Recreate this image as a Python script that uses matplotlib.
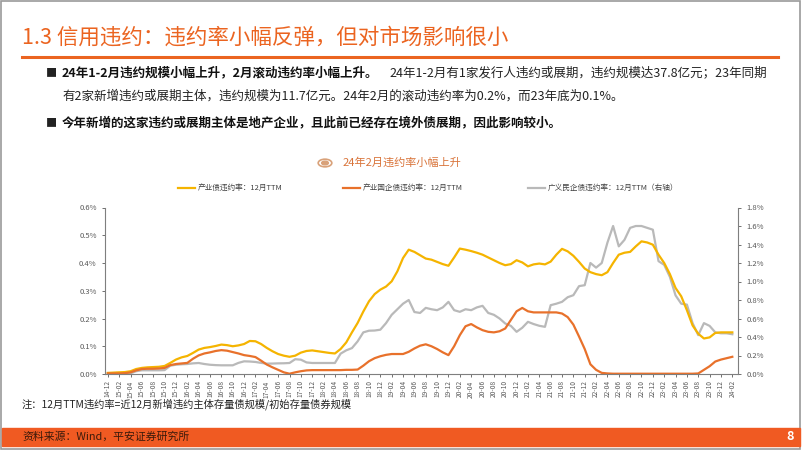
import pandas as pd
import matplotlib
matplotlib.use("Agg")
import matplotlib.pyplot as plt
from matplotlib.patches import Rectangle, Circle
from matplotlib.lines import Line2D

plt.rcParams['font.family'] = ['Noto Sans CJK SC', 'DejaVu Sans']

# 月度数据 2014-12 ~ 2024-02
months = pd.date_range("2014-12-01", "2024-02-01", freq="MS")
tick_labels = [d.strftime("%y-%m") for d in months[::2]]

# 产业债违约率：12月TTM (左轴, %)
ind_rate = [0.004, 0.005, 0.006, 0.007, 0.010, 0.018, 0.022, 0.024, 0.025, 0.026,
            0.029, 0.040, 0.052, 0.060, 0.065, 0.076, 0.088, 0.094, 0.097, 0.101,
            0.106, 0.104, 0.100, 0.103, 0.108, 0.119, 0.118, 0.108, 0.094, 0.082,
            0.072, 0.066, 0.062, 0.066, 0.077, 0.083, 0.085, 0.082, 0.079, 0.076,
            0.074, 0.090, 0.114, 0.150, 0.184, 0.225, 0.262, 0.288, 0.304, 0.315,
            0.334, 0.370, 0.418, 0.448, 0.440, 0.428, 0.416, 0.412, 0.404, 0.396,
            0.390, 0.420, 0.452, 0.448, 0.443, 0.437, 0.430, 0.420, 0.410, 0.400,
            0.392, 0.396, 0.410, 0.402, 0.388, 0.395, 0.398, 0.395, 0.405, 0.430,
            0.451, 0.442, 0.426, 0.404, 0.380, 0.367, 0.360, 0.356, 0.367, 0.400,
            0.430, 0.437, 0.440, 0.460, 0.478, 0.474, 0.466, 0.430, 0.400, 0.360,
            0.310, 0.280, 0.230, 0.175, 0.145, 0.128, 0.132, 0.148, 0.150, 0.150,
            0.150]

# 产业国企债违约率：12月TTM (左轴, %)
soe_rate = [0.002, 0.002, 0.002, 0.003, 0.006, 0.013, 0.018, 0.019, 0.019, 0.020,
            0.022, 0.032, 0.036, 0.038, 0.040, 0.055, 0.067, 0.074, 0.078, 0.083,
            0.086, 0.084, 0.079, 0.074, 0.068, 0.065, 0.061, 0.048, 0.034, 0.024,
            0.015, 0.006, 0.001, 0.006, 0.010, 0.013, 0.014, 0.014, 0.014, 0.014,
            0.014, 0.014, 0.015, 0.015, 0.016, 0.030, 0.046, 0.057, 0.064, 0.069,
            0.072, 0.072, 0.072, 0.080, 0.092, 0.102, 0.107, 0.100, 0.090, 0.078,
            0.068, 0.100, 0.140, 0.172, 0.180, 0.168, 0.158, 0.152, 0.150, 0.154,
            0.164, 0.195, 0.226, 0.238, 0.226, 0.222, 0.222, 0.222, 0.222, 0.222,
            0.218, 0.205, 0.178, 0.135, 0.090, 0.035, 0.015, 0.004, 0.002, 0.001,
            0.001, 0.001, 0.001, 0.001, 0.001, 0.001, 0.001, 0.001, 0.001, 0.001,
            0.001, 0.001, 0.001, 0.001, 0.002, 0.015, 0.028, 0.045, 0.052, 0.057,
            0.062]

# 广义民企债违约率：12月TTM (右轴, %)
pri_rate = [0.007, 0.010, 0.011, 0.009, 0.007, 0.030, 0.040, 0.040, 0.040, 0.040,
            0.042, 0.090, 0.100, 0.105, 0.108, 0.115, 0.119, 0.108, 0.100, 0.096,
            0.094, 0.094, 0.094, 0.120, 0.137, 0.135, 0.130, 0.120, 0.112, 0.113,
            0.115, 0.116, 0.119, 0.160, 0.155, 0.125, 0.119, 0.119, 0.119, 0.119,
            0.119, 0.220, 0.256, 0.280, 0.353, 0.450, 0.468, 0.470, 0.479, 0.550,
            0.640, 0.700, 0.760, 0.800, 0.670, 0.660, 0.715, 0.700, 0.690, 0.720,
            0.780, 0.690, 0.672, 0.700, 0.690, 0.720, 0.737, 0.660, 0.640, 0.600,
            0.546, 0.520, 0.456, 0.500, 0.564, 0.540, 0.521, 0.510, 0.744, 0.760,
            0.780, 0.830, 0.852, 0.950, 0.960, 1.200, 1.150, 1.200, 1.420, 1.600,
            1.380, 1.450, 1.580, 1.600, 1.600, 1.580, 1.560, 1.220, 1.180, 1.050,
            0.850, 0.760, 0.750, 0.550, 0.420, 0.550, 0.520, 0.450, 0.440, 0.440,
            0.430]

yellow = "#F5B400"
orange = "#E8712B"
gray = "#B9B9B9"
title_orange = "#EB6420"

fig = plt.figure(figsize=(8.02, 4.51), dpi=100)

# 外框
fig.patches.append(Rectangle((0.001, 0.004), 0.997, 0.993, transform=fig.transFigure,
                             fill=False, edgecolor="#9A9A9A", linewidth=1.2))

# 标题
fig.text(22 / 802, 1 - 38 / 451, "1.3 信用违约：违约率小幅反弹，但对市场影响很小",
         color=title_orange, fontsize=15.5, va="center", ha="left", weight="medium")
fig.add_artist(Line2D([22 / 802, 778 / 802], [1 - 57 / 451] * 2, color=title_orange,
                      linewidth=2.2, transform=fig.transFigure))

# 要点
bx, tx = 46 / 802, 62 / 802
fs = 9
fig.text(bx, 1 - 73 / 451, "■", fontsize=8, va="center", color="#222222")
fig.text(tx, 1 - 73 / 451, "24年1-2月违约规模小幅上升，2月滚动违约率小幅上升。",
         fontsize=fs, va="center", weight="bold", color="#111111")
fig.text(389 / 802, 1 - 73 / 451, "24年1-2月有1家发行人违约或展期，违约规模达37.8亿元；23年同期",
         fontsize=fs, va="center", color="#222222")
fig.text(tx, 1 - 96 / 451, "有2家新增违约或展期主体，违约规模为11.7亿元。24年2月的滚动违约率为0.2%，而23年底为0.1%。",
         fontsize=fs, va="center", color="#222222")
fig.text(bx, 1 - 123 / 451, "■", fontsize=8, va="center", color="#222222")
fig.text(tx, 1 - 123 / 451, "今年新增的这家违约或展期主体是地产企业，且此前已经存在境外债展期，因此影响较小。",
         fontsize=fs, va="center", weight="bold", color="#111111")

# 图标题
fig.add_artist(Circle((325 / 802, 1 - 163 / 451), 0.0085, transform=fig.transFigure,
                      fill=False, edgecolor="#D9A27A", linewidth=1.2))
fig.add_artist(Circle((325 / 802, 1 - 163 / 451), 0.0042, transform=fig.transFigure,
                      color="#D9A27A"))
fig.text(343 / 802, 1 - 163 / 451, "24年2月违约率小幅上升", fontsize=8,
         color="#D9743A", va="center")

# 主图
ax = fig.add_axes([105 / 802, 77 / 451, 633 / 802, 166.5 / 451])
ax2 = ax.twinx()
x = list(range(len(months)))
l1, = ax.plot(x, ind_rate, color=yellow, linewidth=1.6, label="产业债违约率：12月TTM")
l2, = ax.plot(x, soe_rate, color=orange, linewidth=1.6, label="产业国企债违约率：12月TTM")
l3, = ax2.plot(x, pri_rate, color=gray, linewidth=1.6, label="广义民企债违约率：12月TTM（右轴）")
ax.set_zorder(ax2.get_zorder() + 1)
ax.patch.set_visible(False)

ax.set_xlim(-0.5, 111)
ax.set_ylim(0, 0.6)
ax2.set_ylim(0, 1.8)
ax.set_yticks([i / 10 for i in range(7)])
ax.set_yticklabels([f"{i / 10:.1f}%" for i in range(7)])
ax2.set_yticks([i / 5 for i in range(10)])
ax2.set_yticklabels([f"{i / 5:.1f}%" for i in range(10)])
ax.set_xticks(x[::2])
ax.set_xticklabels(tick_labels, rotation=90)

for a in (ax, ax2):
    a.spines["top"].set_visible(False)
    for s in ("left", "right", "bottom"):
        a.spines[s].set_color("#7F7F7F")
        a.spines[s].set_linewidth(0.8)
    a.tick_params(labelsize=5.5, colors="#595959", length=2.5, width=0.6)
ax.spines["right"].set_visible(False)
ax2.spines["left"].set_visible(False)
ax2.spines["bottom"].set_visible(False)
ax.tick_params(axis="x", labelsize=4.8, pad=2)

# 图例
leg_items = [(178, l1), (343, l2), (528, l3)]
for px, ln in leg_items:
    fig.add_artist(Line2D([px / 802, (px + 17) / 802], [1 - 188 / 451] * 2,
                          color=ln.get_color(), linewidth=1.6, transform=fig.transFigure))
    fig.text((px + 20) / 802, 1 - 188 / 451, ln.get_label(), fontsize=5.5,
             color="#404040", va="center")

# 注释
fig.text(22 / 802, 1 - 404 / 451, "注：12月TTM违约率=近12月新增违约主体存量债规模/初始存量债券规模",
         fontsize=7.4, va="center", color="#222222")

# 页脚
fig.patches.append(Rectangle((0.002, 1 - 446 / 451), 0.996, 18 / 451,
                             transform=fig.transFigure, color="#F05A22"))
fig.text(22 / 802, 1 - 437 / 451, "资料来源：Wind，平安证券研究所", fontsize=7.8,
         va="center", color="#3A1A0A")
fig.text(790 / 802, 1 - 437 / 451, "8", fontsize=9, va="center", ha="center",
         color="white", weight="bold")

fig.savefig("out.png", dpi=100)
